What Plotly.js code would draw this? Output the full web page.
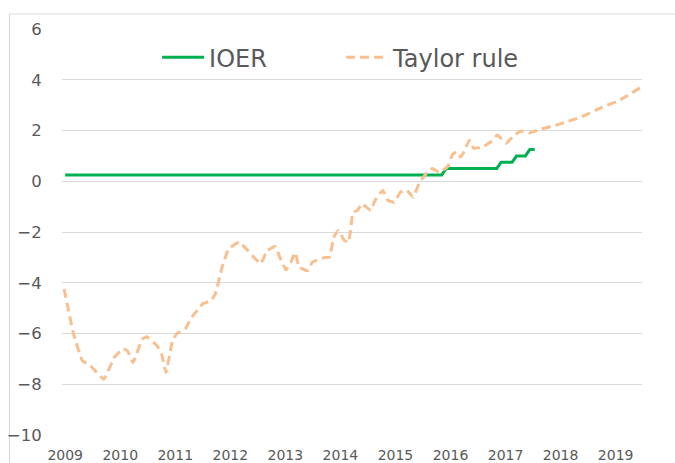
<!DOCTYPE html>
<html>
<head>
<meta charset="utf-8">
<script src="https://cdn.plot.ly/plotly-3.0.1.min.js"></script>
<style>html,body{margin:0;padding:0;background:#fff;}#chart{width:675px;height:463px;}</style>
</head>
<body>
<div id="chart"></div>
<script>
// IOER (interest on excess reserves), %
const ioerX = [2009.0, 2015.84, 2015.92, 2016.84, 2016.92, 2017.12, 2017.20, 2017.36, 2017.44, 2017.53];
const ioerY = [0.25, 0.25, 0.5, 0.5, 0.75, 0.75, 1.0, 1.0, 1.25, 1.25];

// Taylor rule implied rate, %
const taylorX = [2008.98, 2009.15, 2009.31, 2009.46, 2009.70, 2009.89, 2010.05, 2010.13, 2010.23, 2010.40,
  2010.48, 2010.67, 2010.75, 2010.83, 2010.95, 2011.03, 2011.18, 2011.30, 2011.50, 2011.65,
  2011.73, 2011.85, 2011.97, 2012.16, 2012.32, 2012.43, 2012.55, 2012.67, 2012.82, 2012.90,
  2013.01, 2013.10, 2013.18, 2013.25, 2013.41, 2013.49, 2013.72, 2013.80, 2013.88, 2013.96,
  2014.07, 2014.15, 2014.23, 2014.31, 2014.39, 2014.55, 2014.63, 2014.77, 2014.86, 2014.98,
  2015.09, 2015.21, 2015.32, 2015.44, 2015.56, 2015.67, 2015.79, 2015.95, 2016.03, 2016.11,
  2016.18, 2016.26, 2016.34, 2016.42, 2016.58, 2016.73, 2016.85, 2017.01, 2017.16, 2017.28,
  2017.44, 2017.59, 2017.98, 2018.37, 2018.76, 2019.08, 2019.47];
const taylorY = [-4.24, -6.0, -7.07, -7.27, -7.8, -6.95, -6.6, -6.68, -7.15, -6.22,
  -6.13, -6.48, -6.8, -7.54, -6.28, -6.0, -5.82, -5.36, -4.83, -4.7,
  -4.43, -3.39, -2.66, -2.4, -2.73, -3.0, -3.25, -2.73, -2.57, -3.0,
  -3.49, -3.19, -2.81, -3.39, -3.52, -3.19, -3.0, -3.0, -2.21, -1.94,
  -2.33, -2.4, -1.22, -1.15, -0.88, -1.15, -0.75, -0.36, -0.75, -0.83,
  -0.43, -0.36, -0.63, -0.03, 0.3, 0.5, 0.36, 0.57, 1.03, 1.16,
  0.95, 1.22, 1.62, 1.3, 1.35, 1.55, 1.82, 1.5, 1.82, 1.98,
  1.9, 2.02, 2.25, 2.53, 2.92, 3.2, 3.72];

const yearTicks = [2009, 2010, 2011, 2012, 2013, 2014, 2015, 2016, 2017, 2018, 2019];
const yearLabels = ['2009', '2010', '2011', '2012', '2013', '2014', '2015', '2016', '2017', '2018', '2019'];
const yTicks = [-10, -8, -6, -4, -2, 0, 2, 4, 6];

const traces = [
  {x: ioerX, y: ioerY, type: 'scatter', mode: 'lines', name: 'IOER',
   line: {color: '#00B050', width: 3}},
  {x: taylorX, y: taylorY, type: 'scatter', mode: 'lines', name: 'Taylor rule',
   line: {color: '#F9BF8F', width: 3, dash: '9px,5px', shape: 'spline', smoothing: 0.3}}
];

const layout = {
  width: 675, height: 463,
  margin: {l: 62, r: 33, t: 29, b: 28},
  paper_bgcolor: '#ffffff', plot_bgcolor: '#ffffff',
  font: {family: 'DejaVu Sans, sans-serif', color: '#595959'},
  showlegend: true,
  legend: {orientation: 'h', x: 0.164, y: 0.985, xanchor: 'left', yanchor: 'top',
           font: {size: 24, color: '#595959'}, itemwidth: 42, entrywidth: 127, entrywidthmode: 'pixels',
           bgcolor: 'rgba(0,0,0,0)', borderwidth: 0},
  xaxis: {range: [2008.942, 2019.479], tickvals: yearTicks, ticktext: yearLabels,
          showgrid: false, zeroline: false, showline: false,
          ticks: 'outside', ticklen: 7, tickcolor: 'rgba(0,0,0,0)',
          tickfont: {size: 14, color: '#595959'}, fixedrange: true},
  yaxis: {range: [-10, 6], tickvals: yTicks, showgrid: true, gridcolor: '#d9d9d9', gridwidth: 1,
          zeroline: false, showline: false,
          ticks: 'outside', ticklen: 16, tickcolor: 'rgba(0,0,0,0)',
          tickfont: {size: 16.5, color: '#595959'}, fixedrange: true},
  shapes: [
    {type: 'rect', xref: 'paper', yref: 'paper', x0: -0.0905, x1: 1.2, y0: -0.2, y1: 1.037,
     line: {color: '#d9d9d9', width: 1}, fillcolor: 'rgba(0,0,0,0)', layer: 'below'}
  ]
};

Plotly.newPlot('chart', traces, layout, {displayModeBar: false, staticPlot: true});
</script>
</body>
</html>
